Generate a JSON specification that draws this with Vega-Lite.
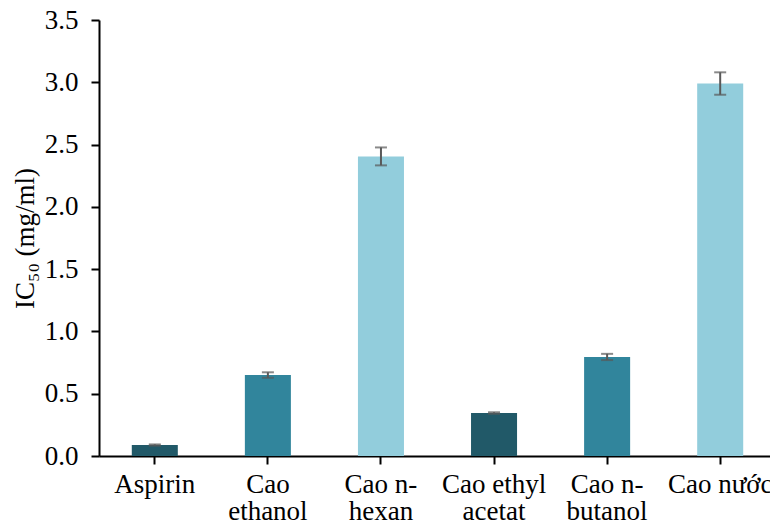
{
  "$schema": "https://vega.github.io/schema/vega-lite/v6.json",
  "autosize": "none",
  "padding": {"left": 99, "top": 20, "right": 0, "bottom": 75},
  "width": 677,
  "height": 436,
  "background": "white",
  "config": {
    "view": {"stroke": null},
    "font": "Liberation Serif",
    "axis": {
      "labelFont": "Liberation Serif",
      "titleFont": "Liberation Serif",
      "labelFontSize": 27,
      "titleFontSize": 27,
      "titleFontWeight": "normal",
      "labelColor": "black",
      "titleColor": "black",
      "domainColor": "black",
      "tickColor": "black",
      "domainWidth": 2,
      "tickWidth": 2,
      "tickSize": 8,
      "grid": false
    }
  },
  "data": {
    "values": [
      {"sample": "Aspirin", "ic50": 0.088, "err": 0.005},
      {"sample": "Cao ethanol", "ic50": 0.65, "err": 0.022},
      {"sample": "Cao n-hexan", "ic50": 2.405, "err": 0.072},
      {"sample": "Cao ethyl acetat", "ic50": 0.345, "err": 0.006},
      {"sample": "Cao n-butanol", "ic50": 0.795, "err": 0.025},
      {"sample": "Cao nước", "ic50": 2.99, "err": 0.09}
    ]
  },
  "encoding": {
    "x": {
      "field": "sample",
      "type": "nominal",
      "sort": null,
      "scale": {"paddingInner": 0.593, "paddingOuter": 0.29},
      "axis": {
        "title": null,
        "labelAngle": 0,
        "labelPadding": 7,
        "labelLineHeight": 27,
        "labelBaseline": "top",
        "labelExpr": "datum.value == 'Cao ethanol' ? ['Cao', 'ethanol'] : datum.value == 'Cao n-hexan' ? ['Cao n-', 'hexan'] : datum.value == 'Cao ethyl acetat' ? ['Cao ethyl', 'acetat'] : datum.value == 'Cao n-butanol' ? ['Cao n-', 'butanol'] : datum.value"
      }
    }
  },
  "layer": [
    {
      "mark": {"type": "bar"},
      "encoding": {
        "y": {
          "field": "ic50",
          "type": "quantitative",
          "title": "IC₅₀ (mg/ml)",
          "scale": {"domain": [0, 3.5], "nice": false},
          "axis": {
            "values": [0, 0.5, 1, 1.5, 2, 2.5, 3, 3.5],
            "format": ".1f",
            "labelPadding": 13,
            "titlePadding": 5
          }
        },
        "color": {
          "field": "sample",
          "type": "nominal",
          "legend": null,
          "scale": {
            "domain": ["Aspirin", "Cao ethanol", "Cao n-hexan", "Cao ethyl acetat", "Cao n-butanol", "Cao nước"],
            "range": ["#215968", "#31859C", "#92CDDC", "#215968", "#31859C", "#92CDDC"]
          }
        }
      }
    },
    {
      "mark": {"type": "errorbar", "ticks": {"size": 12, "thickness": 2, "color": "#595959"}, "rule": {"strokeWidth": 2, "color": "#595959"}},
      "encoding": {
        "y": {"field": "ic50", "type": "quantitative", "title": "IC₅₀ (mg/ml)"},
        "yError": {"field": "err"}
      }
    }
  ]
}
